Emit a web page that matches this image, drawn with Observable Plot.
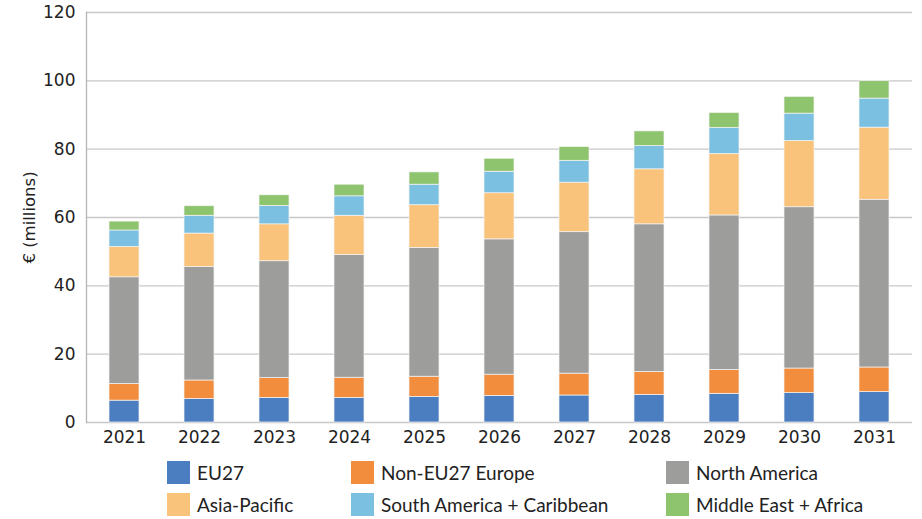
<!DOCTYPE html>
<html>
<head>
<meta charset="utf-8">
<script src="https://cdn.jsdelivr.net/npm/d3@7"></script>
<script src="https://cdn.jsdelivr.net/npm/@observablehq/plot@0.6"></script>
<style>
  html, body { margin: 0; padding: 0; background: #fff; }
  #chart { width: 922px; height: 519px; position: relative; }
  .legend { position: absolute; left: 167px; top: 461px; display: grid;
    grid-template-columns: 184px 315px auto; row-gap: 9px;
    font-family: Lato, "Noto Sans", sans-serif; font-size: 19px; color: #222; }
  .item { display: flex; align-items: center; height: 23px; white-space: nowrap; }
  .sw { width: 23px; height: 23px; margin-right: 7px; flex: none; }
</style>
</head>
<body>
<div id="chart"></div>
<script>
const years = ["2021","2022","2023","2024","2025","2026","2027","2028","2029","2030","2031"];
const regions = ["EU27","Non-EU27 Europe","North America","Asia-Pacific","South America + Caribbean","Middle East + Africa"];
const colors = ["#4a7ec0","#f28d3e","#9d9d9c","#fac37c","#7cc0e1","#8fc46f"];
const eu27 =        [6.4, 6.9, 7.2, 7.2, 7.5, 7.8, 7.9, 8.1, 8.4, 8.6, 8.9];
const nonEU27 =     [4.9, 5.4, 5.8, 5.9, 5.9, 6.2, 6.4, 6.7, 7.0, 7.2, 7.2];
const northAmerica =[31.2, 33.2, 34.2, 35.9, 37.7, 39.6, 41.4, 43.2, 45.2, 47.2, 49.1];
const asiaPacific = [8.9, 9.8, 10.8, 11.5, 12.5, 13.5, 14.5, 16.1, 18.0, 19.4, 21.1];
const southAmerica =[4.8, 5.2, 5.4, 5.7, 6.0, 6.3, 6.4, 6.8, 7.6, 8.0, 8.5];
const middleEast =  [2.6, 2.8, 3.1, 3.4, 3.6, 3.8, 4.0, 4.3, 4.4, 4.9, 5.1];
const yTicks = [0, 20, 40, 60, 80, 100, 120];
const yLabel = "€ (millions)";

const series = [eu27, nonEU27, northAmerica, asiaPacific, southAmerica, middleEast];
const data = [];
years.forEach((yr, i) => {
  regions.forEach((r, j) => data.push({year: yr, region: r, value: series[j][i]}));
});

const plot = Plot.plot({
  width: 922,
  height: 455,
  marginLeft: 86,
  marginRight: 10,
  marginTop: 12,
  marginBottom: 33,
  style: {fontFamily: "'DejaVu Sans', sans-serif", fontSize: "17px", color: "#222", background: "#fff"},
  x: {domain: years, paddingInner: 0.6, paddingOuter: 0.263, label: null},
  y: {domain: [0, 120], label: null},
  color: {domain: regions, range: colors},
  marks: [
    Plot.gridY(yTicks, {stroke: "#c8c8c8", strokeOpacity: 1, strokeWidth: 1.3}),
    Plot.frame({anchor: "left", stroke: "#b5b5b5", strokeWidth: 1.3}),
    Plot.barY(data, {x: "year", y: "value", fill: "region", stroke: "#f4f4f4", strokeWidth: 0.7}),
    Plot.axisY(yTicks, {tickSize: 0, tickPadding: 11, label: null, fontSize: 17}),
    Plot.axisX({tickSize: 0, tickPadding: 8, label: null, fontSize: 17}),
    Plot.text([yLabel], {frameAnchor: "left", textAnchor: "middle", dx: -57, rotate: -90, fontSize: 16.5, fill: "#222"})
  ]
});
const chart = document.getElementById("chart");
chart.appendChild(plot);

const legend = document.createElement("div");
legend.className = "legend";
regions.forEach((r, j) => {
  const it = document.createElement("div");
  it.className = "item";
  const sw = document.createElement("span");
  sw.className = "sw";
  sw.style.background = colors[j];
  it.appendChild(sw);
  it.appendChild(document.createTextNode(r));
  legend.appendChild(it);
});
chart.appendChild(legend);
</script>
</body>
</html>
